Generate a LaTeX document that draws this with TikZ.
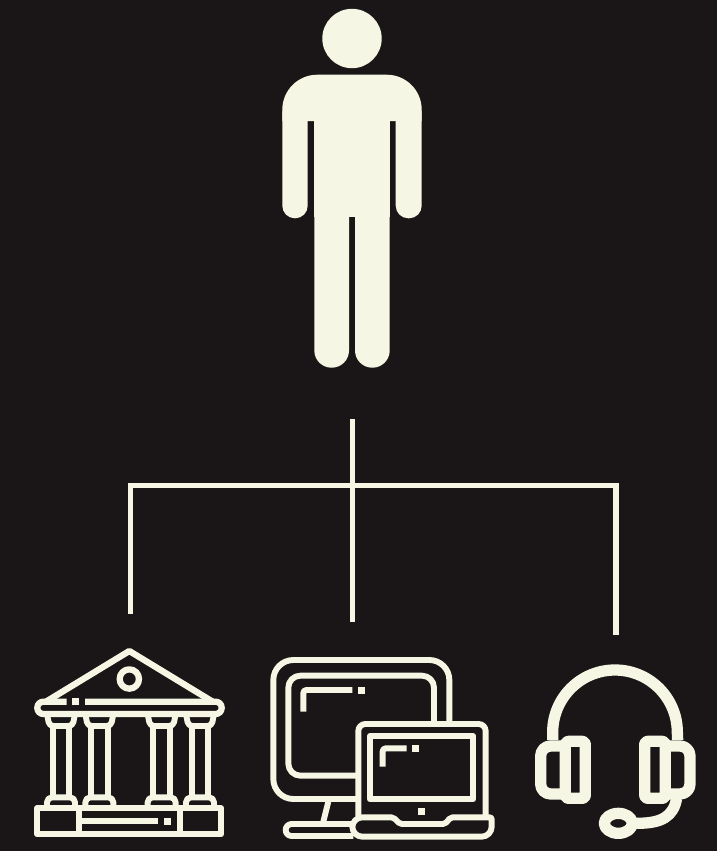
\documentclass[tikz,border=0pt]{standalone}
\definecolor{bgdark}{HTML}{1A1617}
\definecolor{cream}{HTML}{F5F6E3}
\tikzset{
  wire/.style={draw=cream,line width=5.3},
  icon/.style={draw=cream,line width=5.9,line join=round},
  thick icon/.style={draw=cream,line width=11.3,line join=round},
  dot/.style={fill=cream},
}

\begin{document}
\begin{tikzpicture}[x=1pt,y=-1pt]
\fill[bgdark] (0,0) rectangle (717,851);
% ---------- person ----------
\fill[cream] (352,38.5) circle[radius=29.7];
\fill[cream] (282.3,121) [rounded corners=35pt] -- (282.3,74.7) -- (421.7,74.7) [sharp corners] -- (421.7,121) -- cycle;
\fill[cream,rounded corners=12.6pt] (282.3,100) rectangle (307.7,218.3);
\fill[cream,rounded corners=12.6pt] (395.7,100) rectangle (421.7,218.3);
\fill[cream] (314.3,100) rectangle (389.7,217);
\fill[cream,rounded corners=17.2pt] (314.3,190) rectangle (349,367.7);
\fill[cream,rounded corners=17.2pt] (355,190) rectangle (389.7,367.7);
% ---------- connectors ----------
\coordinate (stemtop) at (352.2,419);
\coordinate (stembot) at (352.2,621.7);
\coordinate (branchL) at (130.7,485.6);
\coordinate (branchR) at (616,485.6);
\coordinate (bankend) at (130.7,613.7);
\coordinate (phoneend) at (616,635);
\draw[wire] (stemtop) -- (stembot);
\draw[wire] (bankend) -- (branchL) -- (branchR) -- (phoneend);
% ---------- bank ----------
\begin{scope}[shift={(20,640)},scale=1/3]
  \draw[icon,line width=6.3] (78,185) -- (328,33) -- (578,185);
  \draw[icon,line width=6.3] (328,117) circle[radius=29];
  \draw[icon,line width=6.3,rounded corners=6pt] (140,185) -- (52,185) -- (52,222) -- (605,222) -- (605,185) -- (195,185);
  \fill[dot] (155,174) rectangle (177,195);
  \foreach \px in {98,213,400,515}{
    \draw[icon] (\px,258) -- (\px,472);
    \draw[icon] (\px+50,258) -- (\px+50,472);
    \draw[icon,rounded corners=4pt] (\px-17,222) -- (\px-10,258) -- (\px+60,258) -- (\px+67,222);
    \draw[icon,rounded corners=5pt] (\px-17,505) -- (\px-17,472) -- (\px+67,472) -- (\px+67,505);
  }
  \draw[icon,line width=6.3] (52,505) rectangle (603,583);
  \draw[icon,line width=6.3] (177,505) -- (177,583);
  \draw[icon,line width=6.3] (480,505) -- (480,583);
  \draw[icon] (177,543) -- (413,543);
  \fill[dot] (432,533) rectangle (453,554);
\end{scope}
% ---------- monitor and laptop ----------
\begin{scope}[shift={(260,645)},scale=1/3]
  \draw[icon,rounded corners=20pt] (568,235) -- (568,45) -- (40,45) -- (40,462) -- (295,462);
  \draw[icon,rounded corners=12pt] (522,235) -- (522,92) -- (85,92) -- (85,392) -- (295,392);
  \draw[icon,rounded corners=3pt] (130,200) -- (130,135) -- (277,135);
  \fill[dot] (295,126) rectangle (316,147);
  \draw[icon] (205,470) -- (190,530);
  \draw[icon,rounded corners=6pt] (275,537) -- (77,537) -- (77,573) -- (280,573);
  \draw[icon,rounded corners=7pt] (295,515) -- (295,237) -- (677,237) -- (677,515);
  \draw[icon] (330,273) rectangle (640,463);
  \draw[icon,rounded corners=3pt] (368,365) -- (368,310) -- (440,310);
  \fill[dot] (456,300) rectangle (477,321);
  \fill[dot] (474,489) rectangle (495,510);
  \draw[icon,rounded corners=2pt] (277,517) -- (400,517) -- (420,537) -- (555,537) -- (572,517) -- (695,517)
    [rounded corners=10pt] -- (695,575) -- (277,575) -- cycle;
\end{scope}
% ---------- headset ----------
\begin{scope}[shift={(525,650)},scale=1/3]
  \draw[thick icon] (83,270) -- (83,247) arc[start angle=180,end angle=360,radius=187] -- (458,270);
  \draw[thick icon,rounded corners=3pt] (121,274) rectangle (181,445);
  \draw[thick icon,rounded corners=3pt] (359,274) rectangle (421,445);
  \draw[thick icon,rounded corners=10pt] (121,288) -- (47,288) -- (47,432) -- (121,432);
  \draw[thick icon,rounded corners=10pt] (421,288) -- (495,288) -- (495,432) -- (421,432);
  \draw[thick icon] (455,445) .. controls (445,500) and (410,520) .. (335,520);
  \draw[thick icon] (280,520) ellipse[x radius=42,y radius=30];
\end{scope}
\end{tikzpicture}
\end{document}
